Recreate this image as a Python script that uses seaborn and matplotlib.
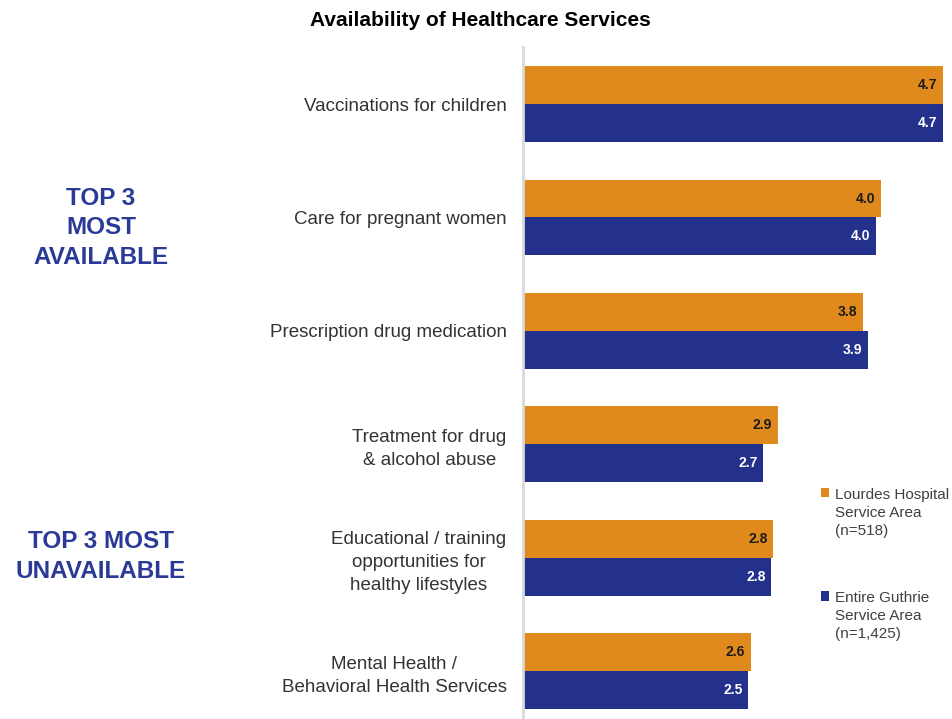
import matplotlib
matplotlib.use("Agg")
import matplotlib.pyplot as plt
import seaborn as sns
import pandas as pd

# Donnees
categories = [
    "Vaccinations for children",
    "Care for pregnant women",
    "Prescription drug medication",
    "Treatment for drug\n& alcohol abuse",
    "Educational / training\nopportunities for\nhealthy lifestyles",
    "Mental Health /\nBehavioral Health Services",
]
series = ["Lourdes Hospital\nService Area\n(n=518)",
          "Entire Guthrie\nService Area\n(n=1,425)"]
lourdes = [4.70, 4.01, 3.81, 2.85, 2.80, 2.55]
guthrie = [4.70, 3.95, 3.86, 2.69, 2.78, 2.52]
lourdes_labels = ["4.7", "4.0", "3.8", "2.9", "2.8", "2.6"]
guthrie_labels = ["4.7", "4.0", "3.9", "2.7", "2.8", "2.5"]
colors = ["#E08A1E", "#23318C"]

df = pd.DataFrame({
    "cat": categories * 2,
    "serie": [series[0]] * 6 + [series[1]] * 6,
    "val": lourdes + guthrie,
})

sns.set_style("white")
plt.rcParams["font.family"] = ["Liberation Sans", "DejaVu Sans"]

fig = plt.figure(figsize=(9.53, 7.19), dpi=100)
ax = fig.add_axes([0.549, -0.012, 0.441, 0.946])

sns.barplot(data=df, y="cat", x="val", hue="serie", orient="h",
            palette=colors, width=0.67, saturation=1, linewidth=0,
            ax=ax, legend=True)

ax.set_xlim(0, 4.71)
ax.set_ylim(5.5, -0.5)
ax.set_xlabel("")
ax.set_ylabel("")
ax.set_xticks([])
for s in ["top", "right", "bottom"]:
    ax.spines[s].set_visible(False)
ax.spines["left"].set_color("#d9d9d9")
ax.spines["left"].set_linewidth(2)

ax.tick_params(axis="y", length=0, pad=12)
ax.set_yticks(range(len(categories)))
ax.set_yticklabels(categories, fontsize=13.5, color="#333333",
                   multialignment="center", linespacing=1.45)

# Etiquettes de valeurs a l'interieur des barres
for cont, labs, col in zip(ax.containers, [lourdes_labels, guthrie_labels],
                           ["#1a1a1a", "white"]):
    texts = ax.bar_label(cont, labels=labs, padding=-4, fontsize=10,
                         fontweight="bold", color=col)
    for t in texts:
        t.set_ha("right")

# Legende a droite
handles, labels = ax.get_legend_handles_labels()
leg = ax.legend(handles, labels, loc="upper left", bbox_to_anchor=(0.694, 0.361),
                frameon=False, fontsize=11, handlelength=0.55, handleheight=0.55,
                handletextpad=0.35, labelspacing=3.5, labelcolor="#404040",
                borderaxespad=0)
for t in leg.get_texts():
    t.set_linespacing(1.35)
for col in leg._legend_handle_box.get_children():
    for hp in col.get_children():
        hp.align = "top"

fig.text(0.504, 0.972, "Availability of Healthcare Services", ha="center",
         va="center", fontsize=15, fontweight="bold", color="black")

fig.text(0.106, 0.683, "TOP 3\nMOST\nAVAILABLE", ha="center", va="center",
         fontsize=17.5, fontweight="bold", color="#2A3A96", linespacing=1.38)
fig.text(0.106, 0.226, "TOP 3 MOST\nUNAVAILABLE", ha="center", va="center",
         fontsize=17.5, fontweight="bold", color="#2A3A96", linespacing=1.38)

fig.savefig("out.png", dpi=100)
